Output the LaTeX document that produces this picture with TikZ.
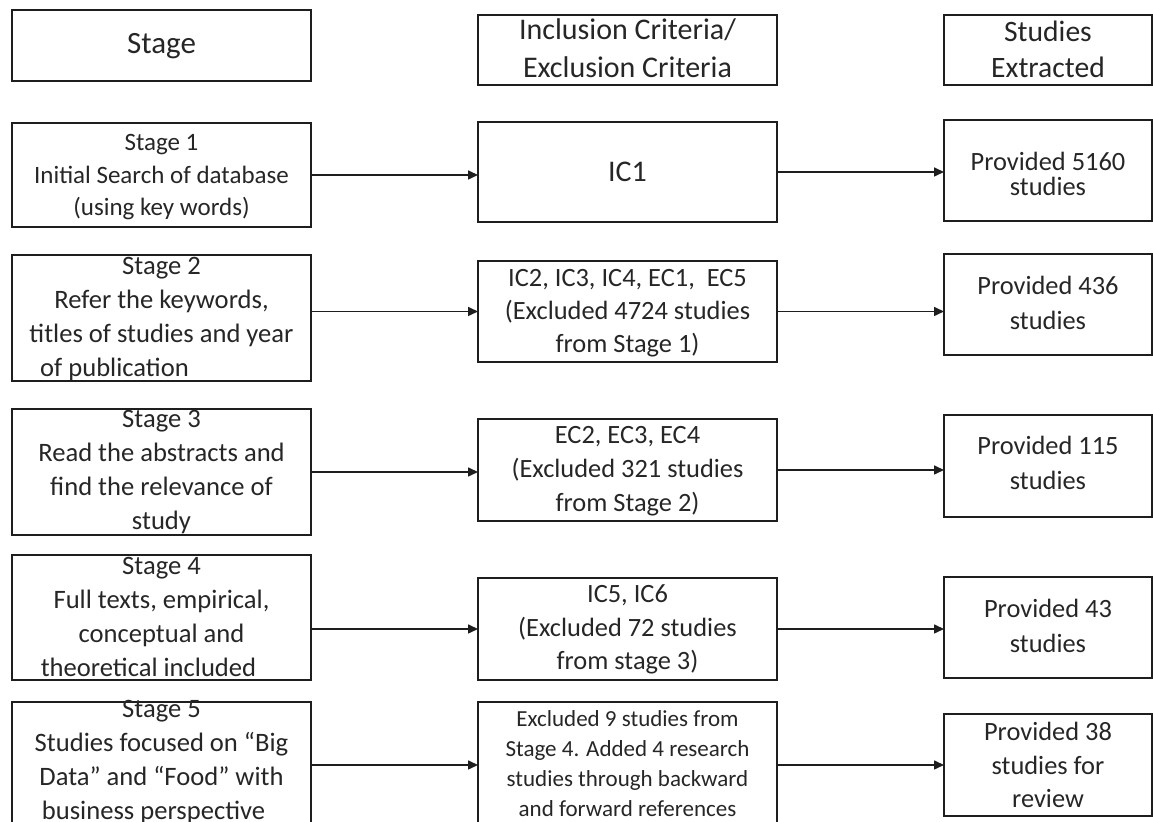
\documentclass[tikz,border=0pt]{standalone}
\usepackage{fontspec}
\setmainfont{Carlito}
\usetikzlibrary{arrows.meta, positioning}
\definecolor{boxline}{RGB}{30,30,30}
\definecolor{boxtext}{RGB}{38,38,38}
\tikzset{
  colbox/.style={rectangle, draw=boxline, line width=1pt, inner sep=0pt,
    outer sep=0pt, align=center, anchor=base, text=boxtext},
  stagebox/.style={colbox, minimum width=149.5pt, font=\fontsize{13.3}{17}\selectfont},
  critbox/.style={colbox, minimum width=149.5pt, font=\fontsize{13.2}{17}\selectfont},
  resbox/.style={colbox, minimum width=104pt, font=\fontsize{13.2}{17.5}\selectfont},
  arrow/.style={-{Triangle[length=5pt,width=4.5pt]}, line width=0.8pt, color=boxline}
}

\begin{document}
\begin{tikzpicture}[x=0.5pt, y=-0.5pt]
  \path[use as bounding box, clip] (0,0) rectangle (1153,822);
  % column headers
  \node[stagebox, font=\fontsize{15.5}{19}\selectfont, text height=22pt, text depth=13.5pt] (hs) at (161.5,54) {Stage};
  \node[critbox, font=\fontsize{15}{19}\selectfont, text height=31.5pt, text depth=3.5pt] (hm) at (627.5,78) {Inclusion Criteria/\\Exclusion Criteria};
  \node[resbox, font=\fontsize{14.8}{18}\selectfont, text height=31.5pt, text depth=3.5pt] (hr) at (1048,78) {Studies\\Extracted};
  % stages
  \node[stagebox, font=\fontsize{12.5}{16.25}\selectfont, text height=46.5pt, text depth=5.5pt] (l1) at (161.5,216) {Stage 1\\Initial Search of database\\(using key words)};
  \node[stagebox, text height=61pt, text depth=2pt] (l2) at (161.5,377) {Stage 2\\Refer the keywords,\\titles of studies and year\\of publication\hspace*{47pt}};
  \node[stagebox, text height=60.5pt, text depth=2.5pt] (l3) at (161.5,530) {Stage 3\\Read the abstracts and\\find the relevance of\\study};
  \node[stagebox, text height=61pt, text depth=1.5pt] (l4) at (161.5,677) {Stage 4\\Full texts, empirical,\\conceptual and\\theoretical included\hspace*{13pt}};
  \node[stagebox, text height=59pt, text depth=10pt] (l5) at (161.5,820) {Stage 5\\Studies focused on “Big\\Data” and “Food” with\\business perspective\hspace*{8pt}};
  % criteria
  \node[critbox, font=\fontsize{15}{17}\selectfont, text height=30pt, text depth=20pt] (m1) at (627.5,182) {IC1};
  \node[critbox, font=\fontsize{13.2}{16.5}\selectfont, text height=46pt, text depth=4.5pt] (m2) at (627.5,353) {IC2, IC3, IC4, EC1,\ \ EC5\\(Excluded 4724 studies\\from Stage 1)};
  \node[critbox, text height=46.5pt, text depth=4.5pt] (m3) at (627.5,512) {EC2, EC3, EC4\\(Excluded 321 studies\\from Stage 2)};
  \node[critbox, font=\fontsize{13.2}{16.75}\selectfont, text height=46pt, text depth=5pt] (m4) at (627.5,670) {IC5, IC6\\(Excluded 72 studies\\from stage 3)};
  \node[critbox, font=\fontsize{11.5}{15}\selectfont, text height=57.5pt, text depth=11.5pt] (m5) at (627.5,817) {Excluded 9 studies from\\Stage 4. Added 4 research\\studies through backward\\and forward references};
  % results
  \node[resbox, font=\fontsize{13.2}{12.5}\selectfont, text height=38pt, text depth=12.5pt] (r1) at (1048,196) {Provided 5160\\studies};
  \node[resbox, text height=38pt, text depth=12.5pt] (r2) at (1048,330) {Provided 436\\studies};
  \node[resbox, text height=37.5pt, text depth=13.5pt] (r3) at (1048,490) {Provided 115\\studies};
  \node[resbox, text height=38pt, text depth=12.5pt] (r4) at (1048,653) {Provided 43\\studies};
  \node[resbox, font=\fontsize{13.2}{16.75}\selectfont, text height=47pt, text depth=4pt] (r5) at (1048,808) {Provided 38\\studies for\\review};
  % connectors
  \draw[arrow] (l1.east) -- (l1.east -| m1.west);
  \draw[arrow] (m1.east) -- (m1.east -| r1.west);
  \draw[arrow] (m2.west -| l2.east) -- (m2.west);
  \draw[arrow] (m2.east) -- (m2.east -| r2.west);
  \draw[arrow] (l3.east) -- (l3.east -| m3.west);
  \draw[arrow] (m3.east) -- (m3.east -| r3.west);
  \draw[arrow] (m4.west -| l4.east) -- (m4.west);
  \draw[arrow] (m4.east) -- (m4.east -| r4.west);
  \draw[arrow] (r5.west -| l5.east) -- (r5.west -| m5.west);
  \draw[arrow] (r5.west -| m5.east) -- (r5.west);
\end{tikzpicture}
\end{document}
